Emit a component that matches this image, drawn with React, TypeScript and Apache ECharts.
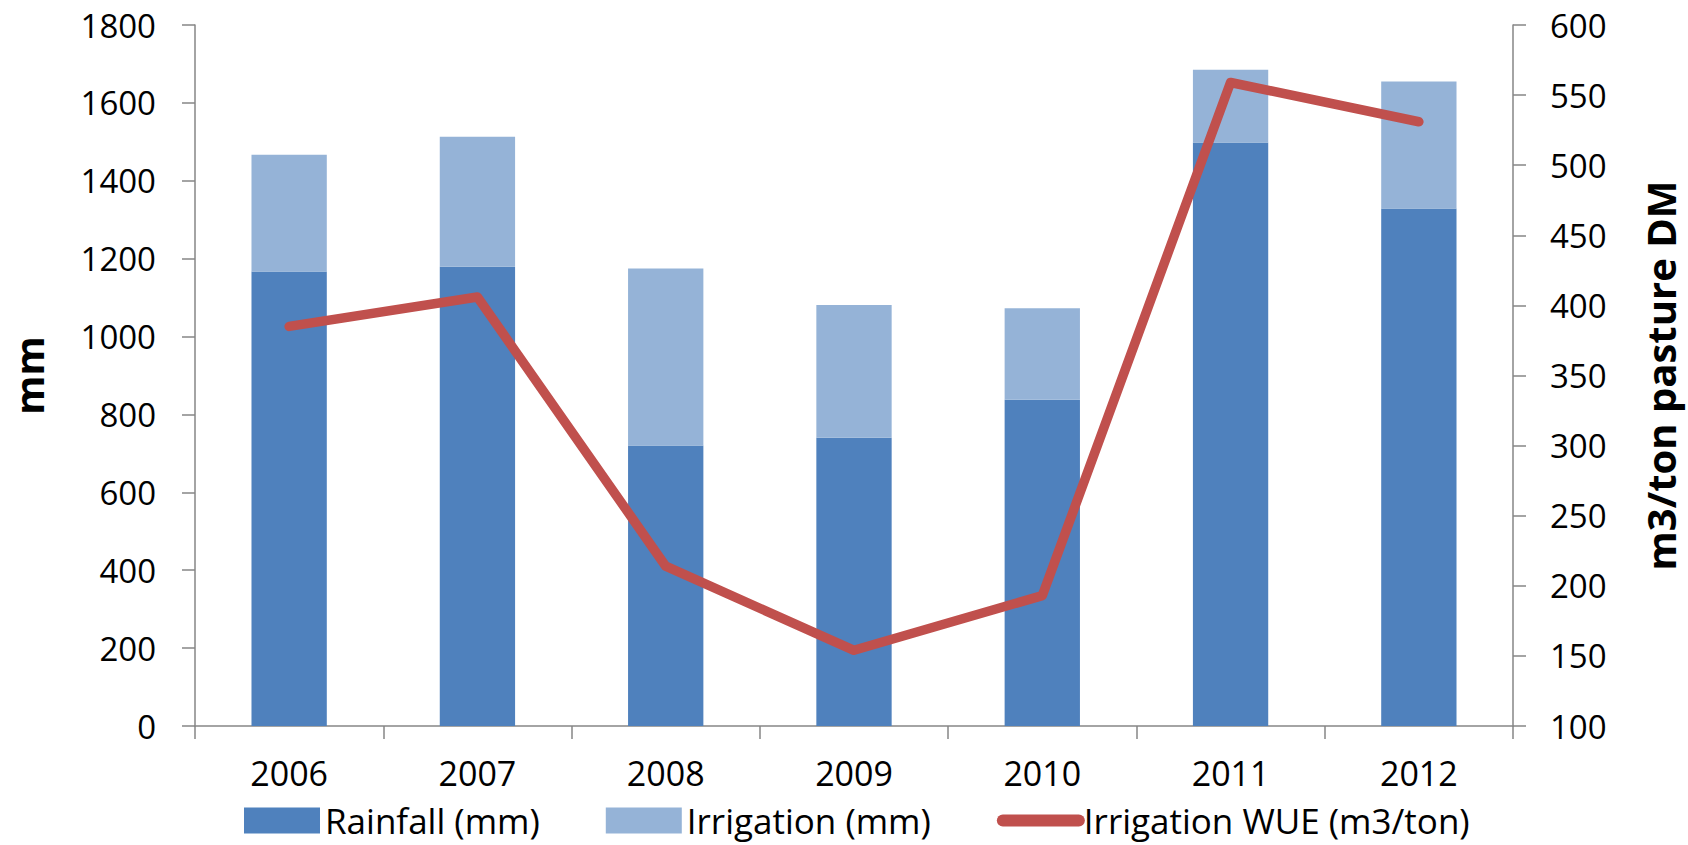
import React, { useEffect, useRef } from "react";
import * as echarts from "echarts";

const years = ["2006", "2007", "2008", "2009", "2010", "2011", "2012"];
const rainfall = [1167, 1179, 720, 740, 838, 1498, 1329];
const irrigation = [300, 334, 455, 341, 235, 187, 326];
const wue = [385, 406, 214, 154, 193, 559, 531];

const FONT = "'Open Sans', 'Liberation Sans', sans-serif";

export default function App() {
  const ref = useRef<HTMLDivElement>(null);
  useEffect(() => {
    if (!ref.current) return;
    const chart = echarts.init(ref.current, undefined, { renderer: "svg" });
    const axisLine = { show: true, lineStyle: { color: "#868686", width: 1.5 } };
    const axisTick = { show: true, length: 13, lineStyle: { color: "#868686", width: 1.5 } };
    const plain = (v: number) => String(v);
    chart.setOption({
      animation: false,
      backgroundColor: "#ffffff",
      textStyle: { fontFamily: FONT },
      grid: { left: 187, right: 173, top: 25, bottom: 119, containLabel: false },
      legend: {
        left: 239,
        top: 798,
        itemWidth: 76,
        itemHeight: 26,
        itemGap: 66,
        textStyle: { fontSize: 35, color: "#000", fontFamily: FONT },
        data: [
          { name: "Rainfall (mm)", icon: "rect" },
          { name: "Irrigation (mm)", icon: "rect" },
          {
            name: "Irrigation WUE (m3/ton)",
            lineStyle: { width: 12, cap: "round" },
            itemStyle: { opacity: 0 },
          },
        ],
      },
      xAxis: {
        type: "category",
        data: years,
        axisLine,
        axisTick,
        axisLabel: { fontSize: 34, color: "#000", margin: 30, fontFamily: FONT },
        splitLine: { show: false },
      },
      yAxis: [
        {
          type: "value",
          min: 0,
          max: 1800,
          interval: 200,
          name: "mm",
          nameLocation: "middle",
          nameGap: 147,
          nameTextStyle: { fontSize: 40, fontWeight: "bold", color: "#000", fontFamily: FONT },
          axisLine,
          axisTick,
          axisLabel: {
            fontSize: 33,
            lineHeight: 30,
            color: "#000",
            margin: 39,
            fontFamily: FONT,
            formatter: plain,
          },
          splitLine: { show: false },
        },
        {
          type: "value",
          min: 100,
          max: 600,
          interval: 50,
          position: "right",
          name: "m3/ton pasture DM",
          nameLocation: "middle",
          nameGap: 127,
          nameTextStyle: { fontSize: 40, fontWeight: "bold", color: "#000", fontFamily: FONT },
          axisLine,
          axisTick,
          axisLabel: {
            fontSize: 33,
            lineHeight: 30,
            color: "#000",
            margin: 37,
            fontFamily: FONT,
            formatter: plain,
          },
          splitLine: { show: false },
        },
      ],
      series: [
        {
          name: "Rainfall (mm)",
          type: "bar",
          stack: "total",
          data: rainfall,
          barWidth: "40%",
          itemStyle: { color: "#4F81BD" },
        },
        {
          name: "Irrigation (mm)",
          type: "bar",
          stack: "total",
          data: irrigation,
          barWidth: "40%",
          itemStyle: { color: "#95B3D7" },
        },
        {
          name: "Irrigation WUE (m3/ton)",
          type: "line",
          yAxisIndex: 1,
          data: wue,
          showSymbol: false,
          symbol: "none",
          lineStyle: { color: "#C0504D", width: 9.5, cap: "round", join: "round" },
          itemStyle: { color: "#C0504D" },
        },
      ],
    });
    return () => chart.dispose();
  }, []);
  return (
    <div
      ref={ref}
      style={{ position: "fixed", left: 0, top: 0, width: 1688, height: 845, background: "#fff" }}
    />
  );
}
